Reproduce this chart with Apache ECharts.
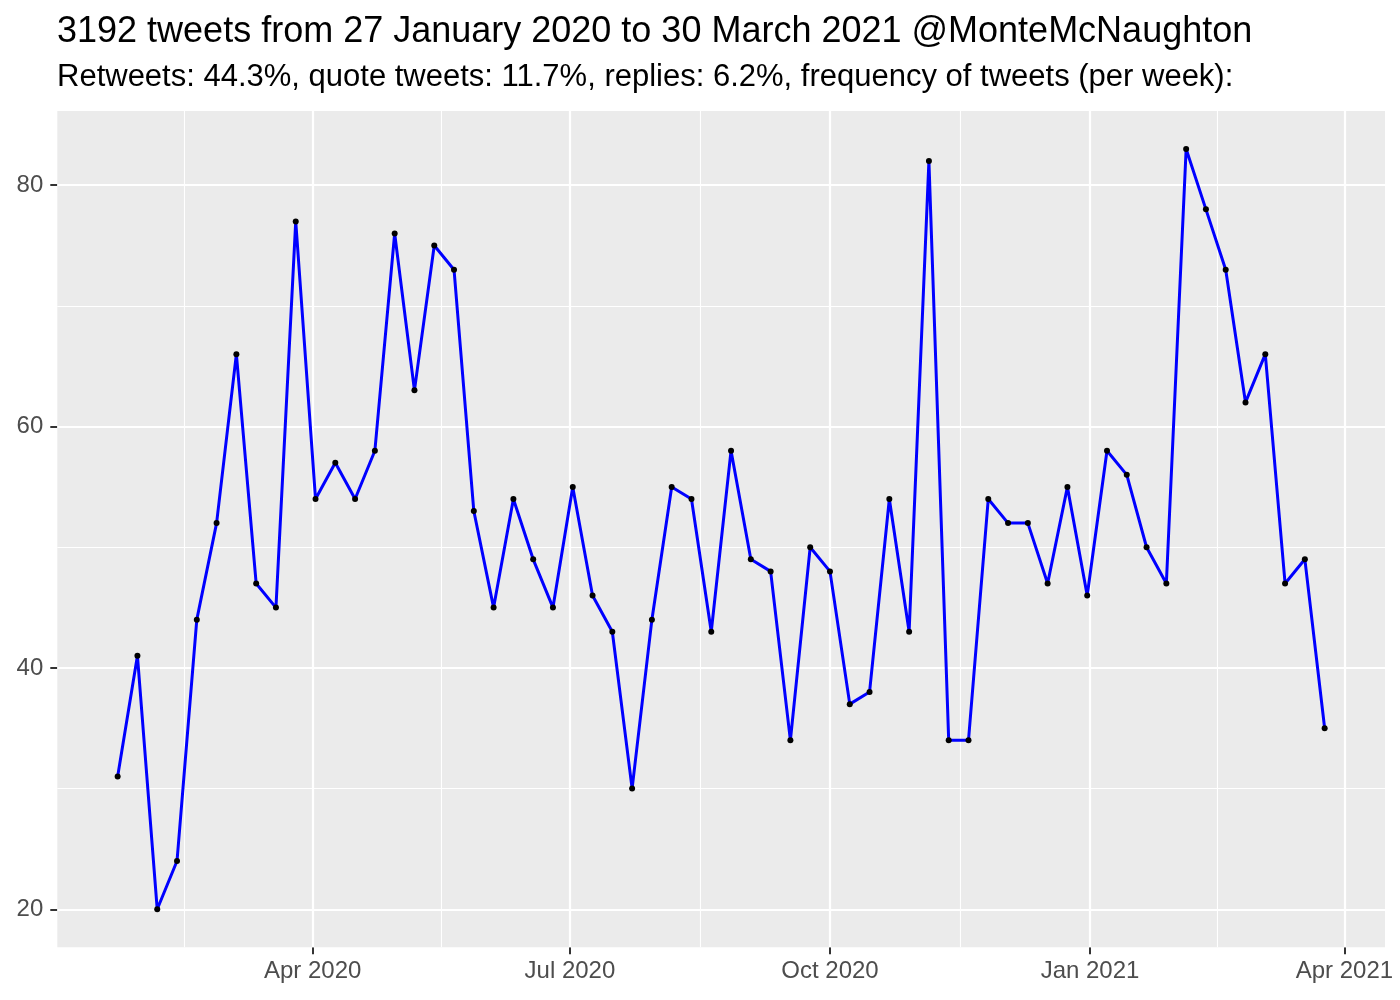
<!DOCTYPE html>
<html>
<head>
<meta charset="utf-8">
<script src="https://cdn.jsdelivr.net/npm/echarts@6/dist/echarts.min.js"></script>
<style>
html,body{margin:0;padding:0;background:#ffffff;}
#chart{width:1400px;height:1000px;}
</style>
</head>
<body>
<div id="chart"></div>
<script>
// ---------- data ----------
const titleText = '3192 tweets from 27 January 2020 to 30 March 2021 @MonteMcNaughton';
const subtitleText = 'Retweets: 44.3%, quote tweets: 11.7%, replies: 6.2%, frequency of tweets (per week):';

const weeks = [
  '2020-01-23','2020-01-30','2020-02-06','2020-02-13','2020-02-20','2020-02-27',
  '2020-03-05','2020-03-12','2020-03-19','2020-03-26','2020-04-02','2020-04-09',
  '2020-04-16','2020-04-23','2020-04-30','2020-05-07','2020-05-14','2020-05-21',
  '2020-05-28','2020-06-04','2020-06-11','2020-06-18','2020-06-25','2020-07-02',
  '2020-07-09','2020-07-16','2020-07-23','2020-07-30','2020-08-06','2020-08-13',
  '2020-08-20','2020-08-27','2020-09-03','2020-09-10','2020-09-17','2020-09-24',
  '2020-10-01','2020-10-08','2020-10-15','2020-10-22','2020-10-29','2020-11-05',
  '2020-11-12','2020-11-19','2020-11-26','2020-12-03','2020-12-10','2020-12-17',
  '2020-12-24','2020-12-31','2021-01-07','2021-01-14','2021-01-21','2021-01-28',
  '2021-02-04','2021-02-11','2021-02-18','2021-02-25','2021-03-04','2021-03-11',
  '2021-03-18','2021-03-25'
];
const tweets = [
  31, 41, 20, 24, 44, 52, 66, 47, 45, 77,
  54, 57, 54, 58, 76, 63, 75, 73, 53, 45,
  54, 49, 45, 55, 46, 43, 30, 44, 55, 54,
  43, 58, 49, 48, 34, 50, 48, 37, 38, 54,
  43, 82, 34, 34, 54, 52, 52, 47, 55, 46,
  58, 56, 50, 47, 83, 78, 73, 62, 66, 47,
  49, 35
];

const xMajorBreaks = ['2020-04-01','2020-07-01','2020-10-01','2021-01-01','2021-04-01'];
const xMajorLabels = ['Apr 2020','Jul 2020','Oct 2020','Jan 2021','Apr 2021'];
const xMinorBreaks = ['2020-02-15T12:00','2020-05-16T12:00','2020-08-16T00:00','2020-11-16T00:00','2021-02-15T00:00'];
const yMajorBreaks = [20, 40, 60, 80];
const yMinorBreaks = [30, 50, 70];

// ---------- helpers ----------
function ts(s) {
  const parts = s.split('T');
  const d = parts[0].split('-').map(Number);
  let h = 0, mi = 0;
  if (parts[1]) { const t = parts[1].split(':').map(Number); h = t[0]; mi = t[1]; }
  return Date.UTC(d[0], d[1] - 1, d[2], h, mi);
}
const xFirst = ts(weeks[0]);
const xLast = ts(weeks[weeks.length - 1]);
const xPad = (xLast - xFirst) * 0.05;
const yLo = Math.min.apply(null, tweets), yHi = Math.max.apply(null, tweets);
const yPad = (yHi - yLo) * 0.05;

const majorXTs = xMajorBreaks.map(ts);
const minorXTs = xMinorBreaks.map(ts);
const seriesData = weeks.map((w, i) => [ts(w), tweets[i]]);

const FONT = 'Liberation Sans, Arial, Helvetica, sans-serif';
const gridLines = []
  .concat(minorXTs.map(v => ({ xAxis: v, lineStyle: { color: '#ffffff', width: 1.1, type: 'solid' } })))
  .concat(yMinorBreaks.map(v => ({ yAxis: v, lineStyle: { color: '#ffffff', width: 1.1, type: 'solid' } })))
  .concat(majorXTs.map(v => ({ xAxis: v, lineStyle: { color: '#ffffff', width: 2.2, type: 'solid' } })))
  .concat(yMajorBreaks.map(v => ({ yAxis: v, lineStyle: { color: '#ffffff', width: 2.2, type: 'solid' } })));

const chart = echarts.init(document.getElementById('chart'), null, { renderer: 'canvas', width: 1400, height: 1000 });
chart.setOption({
  animation: false,
  backgroundColor: '#ffffff',
  title: {
    text: titleText,
    subtext: subtitleText,
    left: 57,
    top: 14,
    itemGap: 12,
    padding: 0,
    textStyle: { fontFamily: FONT, fontSize: 36, fontWeight: 'normal', color: '#000000' },
    subtextStyle: { fontFamily: FONT, fontSize: 31, fontWeight: 'normal', color: '#000000' }
  },
  grid: {
    left: 57.3, right: 15, top: 111, bottom: 52.7,
    containLabel: false,
    outerBoundsMode: 'none',
    show: true,
    backgroundColor: '#EBEBEB',
    borderWidth: 0
  },
  xAxis: {
    type: 'value',
    scale: true,
    min: xFirst - xPad,
    max: xLast + xPad,
    axisLine: { show: false, onZero: false },
    axisTick: { show: true, customValues: majorXTs, length: 7, lineStyle: { color: '#333333', width: 2 } },
    axisLabel: {
      show: true,
      customValues: majorXTs,
      margin: 12,
      showMinLabel: true, showMaxLabel: true,
      fontFamily: FONT, fontSize: 24, color: '#4D4D4D',
      formatter: function (v) {
        const i = majorXTs.indexOf(v);
        return i >= 0 ? xMajorLabels[i] : '';
      }
    },
    splitLine: { show: false },
    minorTick: { show: false },
    minorSplitLine: { show: false }
  },
  yAxis: {
    type: 'value',
    scale: true,
    min: yLo - yPad,
    max: yHi + yPad,
    axisLine: { show: false, onZero: false },
    axisTick: { show: true, customValues: yMajorBreaks, length: 7, lineStyle: { color: '#333333', width: 2 } },
    axisLabel: {
      show: true,
      customValues: yMajorBreaks,
      margin: 14,
      fontFamily: FONT, fontSize: 24, color: '#4D4D4D'
    },
    splitLine: { show: false },
    minorTick: { show: false },
    minorSplitLine: { show: false }
  },
  series: [
    {
      name: 'grid',
      type: 'line',
      z: 1,
      silent: true,
      data: seriesData,
      showSymbol: false,
      lineStyle: { opacity: 0 },
      markLine: {
        z: 1,
        silent: true,
        animation: false,
        symbol: ['none', 'none'],
        label: { show: false },
        emphasis: { disabled: true },
        data: gridLines
      }
    },
    {
      name: 'tweets',
      type: 'line',
      z: 10,
      data: seriesData,
      showSymbol: true,
      symbol: 'circle',
      symbolSize: 6,
      itemStyle: { color: '#000000' },
      lineStyle: { color: '#0000FF', width: 3 },
      emphasis: { disabled: true }
    }
  ]
});
</script>
</body>
</html>
